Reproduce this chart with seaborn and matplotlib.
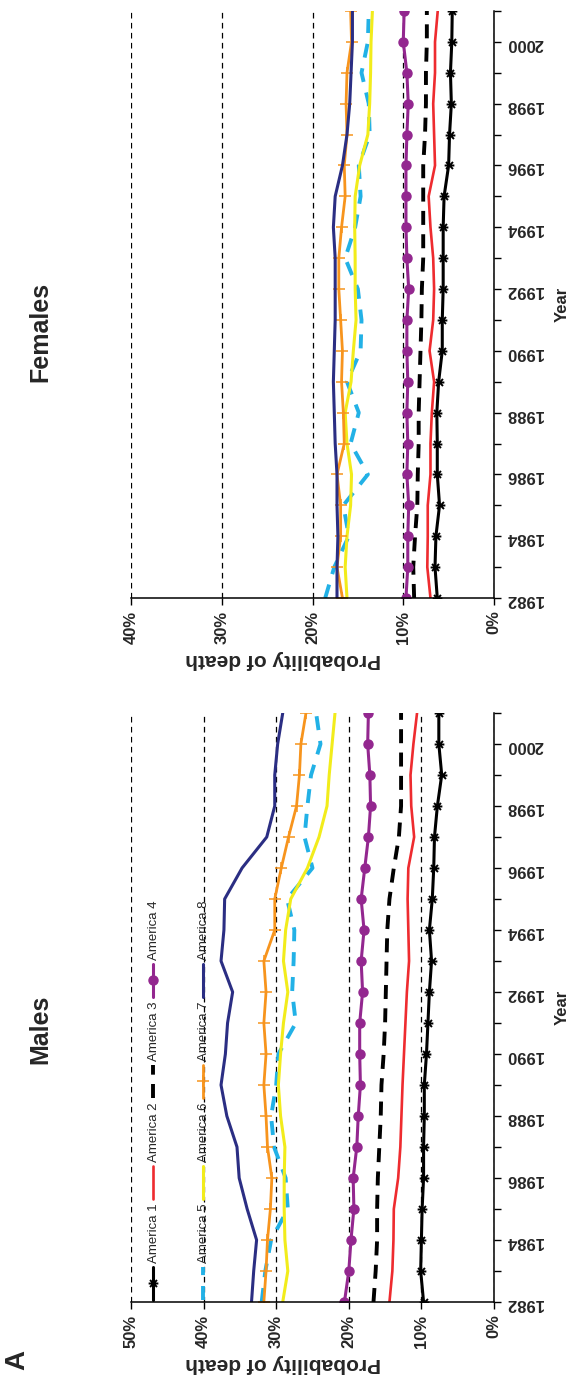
import matplotlib
matplotlib.use("Agg")
import matplotlib.pyplot as plt
from matplotlib.path import Path
from matplotlib.lines import Line2D
import pandas as pd
import seaborn as sns

# ---- data -------------------------------------------------------------
years = list(range(1982, 2002))
regions = ["America 1", "America 2", "America 3", "America 4",
           "America 5", "America 6", "America 7", "America 8"]

# probability of death (%) by year, males
males_am1 = [9.7, 10.1, 10.0, 9.9, 9.7, 9.7, 9.6, 9.6, 9.3, 9.1, 8.9, 8.6, 8.9, 8.5, 8.3, 8.2, 7.8, 7.2, 7.6, 7.6]
males_am2 = [14.4, 14.0, 13.85, 13.8, 13.2, 12.9, 12.75, 12.6, 12.4, 12.2, 12.0, 11.7, 11.8, 11.9, 11.8, 11.0, 11.4, 11.5, 11.1, 10.6]
males_am3 = [16.6, 16.3, 16.1, 16.1, 16.0, 15.8, 15.6, 15.5, 15.2, 15.0, 14.9, 14.8, 14.7, 14.4, 13.8, 13.1, 12.8, 12.8, 12.8, 12.8]
males_am4 = [20.6, 20.0, 19.7, 19.3, 19.4, 18.9, 18.7, 18.4, 18.5, 18.5, 18.1, 18.3, 17.9, 18.3, 17.8, 17.3, 17.0, 17.1, 17.4, 17.3]
males_am5 = [32.0, 31.5, 30.7, 28.4, 28.7, 30.3, 30.7, 30.0, 29.7, 27.3, 27.8, 27.6, 27.5, 28.5, 25.0, 26.1, 25.7, 25.2, 23.9, 24.5]
males_am6 = [29.1, 28.4, 28.8, 28.9, 28.9, 28.8, 29.4, 29.7, 29.4, 29.0, 28.4, 29.0, 28.7, 28.0, 25.7, 24.1, 23.0, 22.7, 22.3, 21.9]
males_am7 = [31.7, 31.4, 31.2, 30.8, 30.6, 31.2, 31.4, 31.7, 31.4, 31.7, 31.4, 31.7, 30.2, 30.2, 29.3, 28.3, 27.2, 26.8, 26.6, 25.9]
males_am8 = [33.4, 33.1, 32.7, 34.0, 35.1, 35.4, 36.8, 37.6, 37.0, 36.7, 36.0, 37.6, 37.2, 37.1, 34.7, 31.3, 30.2, 30.2, 29.8, 29.1]

# probability of death (%) by year, females
females_am1 = [6.25, 6.5, 6.4, 6.0, 6.25, 6.25, 6.3, 6.1, 5.7, 5.7, 5.6, 5.6, 5.6, 5.5, 5.0, 4.9, 4.7, 4.8, 4.65, 4.6]
females_am2 = [7.0, 7.35, 7.3, 7.3, 7.0, 7.0, 6.85, 6.6, 7.1, 6.7, 6.6, 6.7, 7.0, 7.2, 6.5, 6.6, 6.7, 6.5, 6.5, 6.2]
females_am3 = [8.8, 8.9, 8.7, 8.45, 8.4, 8.3, 8.3, 8.2, 8.1, 8.0, 7.95, 7.8, 7.8, 7.8, 7.8, 7.6, 7.5, 7.5, 7.4, 7.4]
females_am4 = [9.7, 9.5, 9.5, 9.4, 9.6, 9.5, 9.6, 9.5, 9.6, 9.6, 9.4, 9.6, 9.7, 9.7, 9.7, 9.6, 9.45, 9.6, 10.0, 9.9]
females_am5 = [18.6, 17.6, 16.0, 16.6, 13.9, 15.8, 14.9, 16.2, 14.7, 14.6, 15.0, 16.4, 15.3, 14.7, 14.9, 13.7, 13.8, 14.6, 13.9, 13.8]
females_am6 = [16.2, 16.4, 16.2, 15.8, 15.7, 16.2, 16.4, 15.75, 15.5, 15.2, 15.3, 15.3, 15.35, 15.3, 14.8, 13.9, 13.7, 13.6, 13.55, 13.4]
females_am7 = [16.7, 17.3, 16.9, 16.9, 17.3, 16.5, 16.6, 16.8, 16.7, 16.9, 17.1, 17.1, 16.8, 16.4, 16.5, 16.2, 16.3, 16.2, 15.7, 15.8]
females_am8 = [17.3, 17.3, 17.2, 17.3, 17.3, 17.5, 17.6, 17.7, 17.6, 17.5, 17.5, 17.5, 17.7, 17.5, 16.7, 16.2, 15.9, 15.75, 15.6, 15.6]

males_series = [males_am1, males_am2, males_am3, males_am4,
                males_am5, males_am6, males_am7, males_am8]
females_series = [females_am1, females_am2, females_am3, females_am4,
                  females_am5, females_am6, females_am7, females_am8]

pct_ticks_males = [0, 10, 20, 30, 40, 50]
pct_ticks_females = [0, 10, 20, 30, 40]
year_labels = [str(y) if (y - 1982) % 2 == 0 and y <= 2000 else "" for y in years]

# ---- styles -----------------------------------------------------------
# asterisk marker: one bar plus two diagonals
star = Path([(-1, 0), (1, 0), (-0.72, -0.72), (0.72, 0.72), (-0.72, 0.72), (0.72, -0.72)],
            [Path.MOVETO, Path.LINETO, Path.MOVETO, Path.LINETO, Path.MOVETO, Path.LINETO])

styles = [
    dict(color="#000000", lw=2.2, marker=star, ms=7, mew=1.4),
    dict(color="#EE2B2F", lw=1.9),
    dict(color="#000000", lw=2.8, dashes=(3.6, 2.4)),
    dict(color="#93278F", lw=2.2, marker="o", ms=6.5),
    dict(color="#22B1E6", lw=2.8, dashes=(3.6, 2.8)),
    dict(color="#F2EC1B", lw=2.2),
    dict(color="#F7941D", lw=2.0, marker="+", ms=8, mew=1.1),
    dict(color="#2B2E83", lw=2.2),
]

sns.set_style("white")
plt.rcParams["font.family"] = ["Liberation Sans", "DejaVu Sans"]

W, H = 577, 1383
fig = plt.figure(figsize=(W / 100, H / 100), dpi=100)


def fx(px):
    return px / W


def fy(py):
    return 1 - py / H


def draw_panel(ax, series, pct_ticks, label_y):
    for name, vals, st in zip(regions, series, styles):
        df = pd.DataFrame({"year": years, "prob": vals})
        kw = dict(color=st["color"], linewidth=st["lw"])
        if "marker" in st:
            kw.update(marker=st["marker"], markersize=st["ms"],
                      markeredgecolor=st["color"], markerfacecolor=st["color"],
                      markeredgewidth=st.get("mew", 1.0))
        if "dashes" in st:
            kw.update(dashes=st["dashes"], dash_capstyle="butt")
        sns.lineplot(data=df, x="prob", y="year", orient="y", sort=True,
                     ax=ax, legend=False, **kw)

    ax.set_xlim(pct_ticks[-1], 0)
    ax.set_ylim(1982, 2001)
    ax.set_xticks(pct_ticks)
    ax.set_xticklabels([f"{v}%" for v in pct_ticks], rotation=90,
                       fontsize=12, fontweight="bold")
    ax.set_yticks(years)
    ax.yaxis.tick_right()
    ax.yaxis.set_label_position("right")
    ax.set_yticklabels(year_labels, rotation=180, fontsize=12, fontweight="bold")
    ax.tick_params(axis="both", direction="out", length=5, width=1.0, color="black", pad=4)
    ax.tick_params(axis="y", right=True, left=False, labelright=True, labelleft=False)
    ax.tick_params(axis="x", bottom=True)
    for side in ("left", "top"):
        ax.spines[side].set_visible(False)
    for side in ("right", "bottom"):
        ax.spines[side].set_color("black")
        ax.spines[side].set_linewidth(1.1)
    ax.xaxis.grid(True, color="black", linestyle=(0, (4.5, 3.5)), linewidth=0.9)
    ax.yaxis.grid(False)
    ax.set_axisbelow(True)
    ax.set_xlabel("Probability of death", rotation=180, fontsize=15,
                  fontweight="bold")
    ax.xaxis.set_label_coords(0.42, label_y)
    ax.xaxis.label.set_verticalalignment("center")
    ax.set_ylabel("Year", rotation=90, fontsize=12, fontweight="bold", labelpad=8)


ax_f = fig.add_axes([fx(131), fy(598), fx(494) - fx(131), (598 - 11) / H])
ax_m = fig.add_axes([fx(131), fy(1302), fx(494) - fx(131), (1302 - 713) / H])
draw_panel(ax_f, females_series, pct_ticks_females, -62 / 587)
draw_panel(ax_m, males_series, pct_ticks_males, -61 / 589)

fig.text(fx(40), fy(332), "Females", rotation=90, fontsize=18, fontweight="bold",
         ha="center", va="center")
fig.text(fx(40), fy(1029), "Males", rotation=90, fontsize=18, fontweight="bold",
         ha="center", va="center")
fig.text(fx(17), fy(1360), "A", rotation=90, fontsize=20, fontweight="bold",
         ha="center", va="center")

# legend, two rows of four entries reading upward
for i, (name, st) in enumerate(zip(regions, styles)):
    row, col = divmod(i, 4)
    x = 153 if row == 0 else 203
    y0 = 1300 - 101 * col
    line = Line2D([fx(x), fx(x)], [fy(y0), fy(y0 - 33)], transform=fig.transFigure,
                  color=st["color"], linewidth=st["lw"])
    if "dashes" in st:
        line.set_dashes(st["dashes"])
    fig.add_artist(line)
    if "marker" in st:
        fig.add_artist(Line2D([fx(x)], [fy(y0 - 17)], transform=fig.transFigure,
                              marker=st["marker"], markersize=st["ms"],
                              markeredgecolor=st["color"], markerfacecolor=st["color"],
                              markeredgewidth=st.get("mew", 1.0), linestyle="none"))
    fig.text(fx(x + 1), fy(y0 - 37), name, rotation=90, fontsize=9.5,
             ha="center", va="bottom")

fig.savefig("out.png", dpi=100)
